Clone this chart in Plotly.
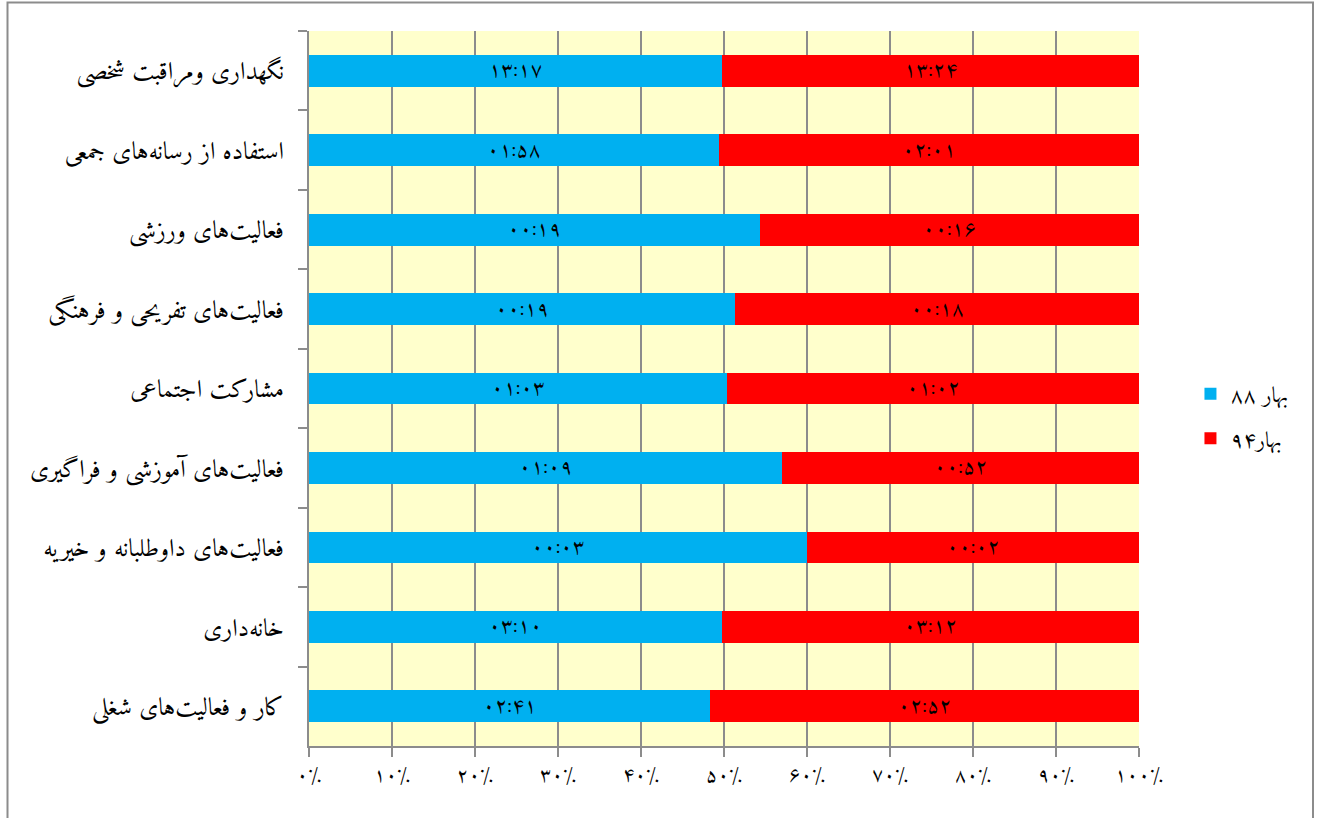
import plotly.graph_objects as go

# Categories, top to bottom
categories = [
    "نگهداری ومراقبت شخصی",
    "استفاده از رسانه‌های جمعی",
    "فعالیت‌های ورزشی",
    "فعالیت‌های تفریحی و فرهنگی",
    "مشارکت اجتماعی",
    "فعالیت‌های آموزشی و فراگیری",
    "فعالیت‌های داوطلبانه و خیریه",
    "خانه‌داری",
    "کار و فعالیت‌های شغلی",
]

# Time spent (minutes per day)
spring88_minutes = [797, 118, 19, 19, 63, 69, 3, 190, 161]
spring94_minutes = [804, 121, 16, 18, 62, 52, 2, 192, 172]

series_names = ["بهار ۸۸", "بهار۹۴"]
series_colors = ["#00B0F0", "#FF0000"]

tick_values = [0, 10, 20, 30, 40, 50, 60, 70, 80, 90, 100]
tick_labels = ["۰٪", "۱۰٪", "۲۰٪", "۳۰٪", "۴۰٪", "۵۰٪", "۶۰٪", "۷۰٪", "۸۰٪", "۹۰٪", "۱۰۰٪"]

FA = str.maketrans("0123456789", "۰۱۲۳۴۵۶۷۸۹")


def hhmm(m):
    return f"{m // 60:02d}:{m % 60:02d}".translate(FA)


FONT = "Amiri, FreeSerif, serif"

fig = go.Figure()
for i, (name, vals, color) in enumerate(
    zip(series_names, [spring88_minutes, spring94_minutes], series_colors)
):
    fig.add_trace(
        go.Bar(
            y=categories,
            x=vals,
            orientation="h",
            name=name,
            marker=dict(color=color, line=dict(width=0)),
            text=[hhmm(v) for v in vals],
            textposition="inside",
            insidetextanchor="middle",
            constraintext="none",
            textangle=0,
            textfont=dict(color="black", size=21, family=FONT),
            legendgroup=f"g{i}",
            hoverinfo="skip",
        )
    )

fig.update_layout(
    width=1319,
    height=818,
    barmode="stack",
    barnorm="percent",
    bargap=0.6,
    paper_bgcolor="white",
    plot_bgcolor="#FFFFCC",
    margin=dict(l=309, r=180, t=31, b=72),
    font=dict(family=FONT, size=20, color="black"),
    showlegend=True,
    legend=dict(
        x=1.062,
        xanchor="left",
        y=0.461,
        yanchor="middle",
        traceorder="grouped",
        tracegroupgap=13,
        font=dict(size=22, family=FONT),
        bgcolor="rgba(0,0,0,0)",
    ),
)

fig.update_xaxes(
    range=[0, 100],
    tickvals=tick_values,
    ticktext=tick_labels,
    showgrid=True,
    gridcolor="#8C8C8C",
    gridwidth=1.5,
    showline=True,
    linecolor="#8C8C8C",
    linewidth=2,
    ticks="outside",
    ticklen=9,
    tickcolor="#8C8C8C",
    tickwidth=2,
    tickfont=dict(size=20, family=FONT),
    zeroline=False,
    fixedrange=True,
)

fig.update_yaxes(
    type="category",
    autorange="reversed",
    showgrid=False,
    showline=True,
    linecolor="#8C8C8C",
    linewidth=2,
    ticks="outside",
    tickson="boundaries",
    ticklen=9,
    tickcolor="#8C8C8C",
    tickwidth=2,
    ticklabelstandoff=18,
    tickfont=dict(size=25, family=FONT),
    fixedrange=True,
)

# Outer chart border (top, left, right; bottom edge cropped off)
fig.add_shape(
    type="rect",
    xref="paper",
    yref="paper",
    x0=(7.5 - 309) / 830,
    x1=(1313 - 309) / 830,
    y0=-0.2,
    y1=(746 - 2.5) / 715,
    line=dict(color="#8C8C8C", width=2),
    fillcolor="rgba(0,0,0,0)",
    layer="below",
)

fig.write_html(
    "out.html",
    config={"displayModeBar": False},
    post_script="document.body.style.margin='0';",
)
